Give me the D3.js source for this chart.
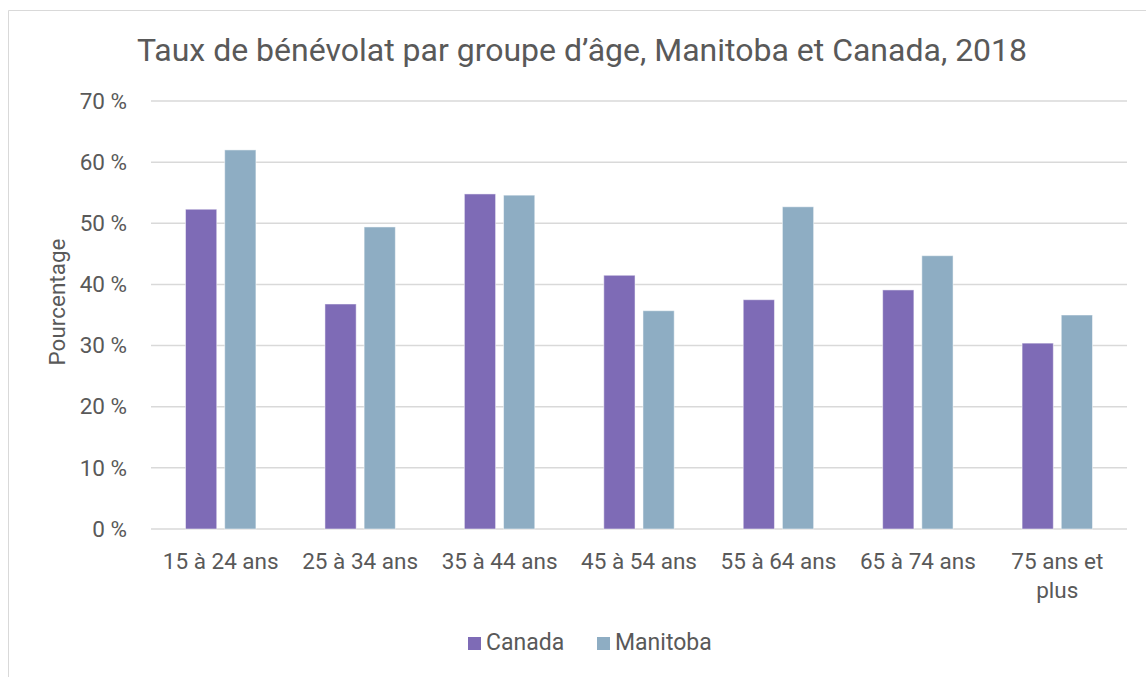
<!DOCTYPE html>
<html>
<head>
<meta charset="utf-8">
<script src="https://cdn.jsdelivr.net/npm/d3@7"></script>
<style>
  html, body { margin: 0; padding: 0; background: #fff; overflow: hidden; }
  svg { display: block; font-family: Roboto, "DejaVu Sans", sans-serif; }
</style>
</head>
<body>
<div id="chart"></div>
<script>
const categories = ["15 à 24 ans", "25 à 34 ans", "35 à 44 ans", "45 à 54 ans", "55 à 64 ans", "65 à 74 ans", "75 ans et plus"];
const seriesNames = ["Canada", "Manitoba"];
const canadaValues = [52.3, 36.8, 54.8, 41.5, 37.5, 39.1, 30.4];
const manitobaValues = [62.0, 49.4, 54.6, 35.7, 52.7, 44.7, 35.0];
const yTicks = [0, 10, 20, 30, 40, 50, 60, 70];

const colors = { Canada: "#7e6bb6", Manitoba: "#8eadc3" };
const textColor = "#595959";

const width = 1146;
const height = 677;
const margin = { top: 101, right: 19, bottom: 148, left: 151 };
const innerWidth = width - margin.left - margin.right;
const innerHeight = height - margin.top - margin.bottom;

const svg = d3.select("#chart")
  .append("svg")
  .attr("width", width)
  .attr("height", height);

// chart frame (top and left edges visible)
svg.append("path")
  .attr("d", `M8.5,${height} V10.5 H${width}`)
  .attr("fill", "none")
  .attr("stroke", "#d9d9d9");

svg.append("text")
  .text("Taux de bénévolat par groupe d’âge, Manitoba et Canada, 2018")
  .attr("x", 582).attr("y", 61)
  .attr("text-anchor", "middle")
  .attr("fill", textColor)
  .attr("font-size", 32);

const inner = svg.append("g")
  .attr("transform", `translate(${margin.left}, ${margin.top})`);

const xScale = d3.scaleBand()
  .domain(categories)
  .range([0, innerWidth]);

const yScale = d3.scaleLinear()
  .domain([0, 70])
  .range([innerHeight, 0]);

// gridlines
inner.append("g")
  .selectAll("line")
  .data(yTicks)
  .join("line")
  .attr("x1", 0).attr("x2", innerWidth)
  .attr("y1", d => yScale(d)).attr("y2", d => yScale(d))
  .attr("stroke", "#d9d9d9")
  .attr("stroke-width", 1.5);

const data = categories.map((c, i) => ({
  category: c,
  values: [
    { name: "Canada", value: canadaValues[i] },
    { name: "Manitoba", value: manitobaValues[i] }
  ]
}));

const barW = xScale.bandwidth() * 0.224;
const barGap = xScale.bandwidth() * 0.057;
const xInner = d3.scaleOrdinal()
  .domain(seriesNames)
  .range([-barGap / 2 - barW, barGap / 2]);

inner.append("g")
  .selectAll("g")
  .data(data)
  .join("g")
  .attr("transform", d => `translate(${xScale(d.category) + xScale.bandwidth() / 2}, 0)`)
  .selectAll("rect")
  .data(d => d.values)
  .join("rect")
  .attr("x", d => xInner(d.name))
  .attr("y", d => yScale(d.value))
  .attr("width", barW)
  .attr("height", d => innerHeight - yScale(d.value))
  .attr("fill", d => colors[d.name])
  .attr("stroke", "#ffffff")
  .attr("stroke-opacity", 0.5)
  .attr("stroke-width", 1);

// y axis labels
const leftAxis = d3.axisLeft(yScale)
  .tickValues(yTicks)
  .tickFormat(d => `${d} %`)
  .tickSize(0)
  .tickPadding(24);
const yAxis = inner.append("g").call(leftAxis);
yAxis.select(".domain").remove();
yAxis.selectAll("text")
  .attr("fill", textColor)
  .attr("font-size", 22.5)
  .attr("font-family", "Roboto, sans-serif");

// x axis labels
const bottomAxis = d3.axisBottom(xScale).tickSize(0).tickPadding(0);
const xAxis = inner.append("g")
  .attr("transform", `translate(0, ${innerHeight})`)
  .call(bottomAxis);
xAxis.select(".domain").remove();
xAxis.selectAll("text").remove();
xAxis.selectAll(".tick").each(function (d) {
  const lines = d === "75 ans et plus" ? ["75 ans et", "plus"] : [d];
  const t = d3.select(this).append("text")
    .attr("fill", textColor)
    .attr("font-size", 22.5)
    .attr("font-family", "Roboto, sans-serif")
    .attr("text-anchor", "middle");
  lines.forEach((l, i) => {
    t.append("tspan").attr("x", 0).attr("y", 39.5 + i * 29.5).text(l);
  });
});

// y axis title
svg.append("text")
  .text("Pourcentage")
  .attr("transform", "translate(65, 302) rotate(-90)")
  .attr("text-anchor", "middle")
  .attr("fill", textColor)
  .attr("font-size", 22.5);

// legend
const legend = svg.append("g")
  .attr("transform", "translate(468, 650)");
const legendX = d3.scaleOrdinal().domain(seriesNames).range([0, 129]);
const item = legend.selectAll("g")
  .data(seriesNames)
  .join("g")
  .attr("transform", d => `translate(${legendX(d)}, 0)`);
item.append("rect")
  .attr("x", 0).attr("y", -13)
  .attr("width", 13).attr("height", 13)
  .attr("fill", d => colors[d]);
item.append("text")
  .text(d => d)
  .attr("x", 18).attr("y", 0)
  .attr("fill", textColor)
  .attr("font-size", 23);
</script>
</body>
</html>
